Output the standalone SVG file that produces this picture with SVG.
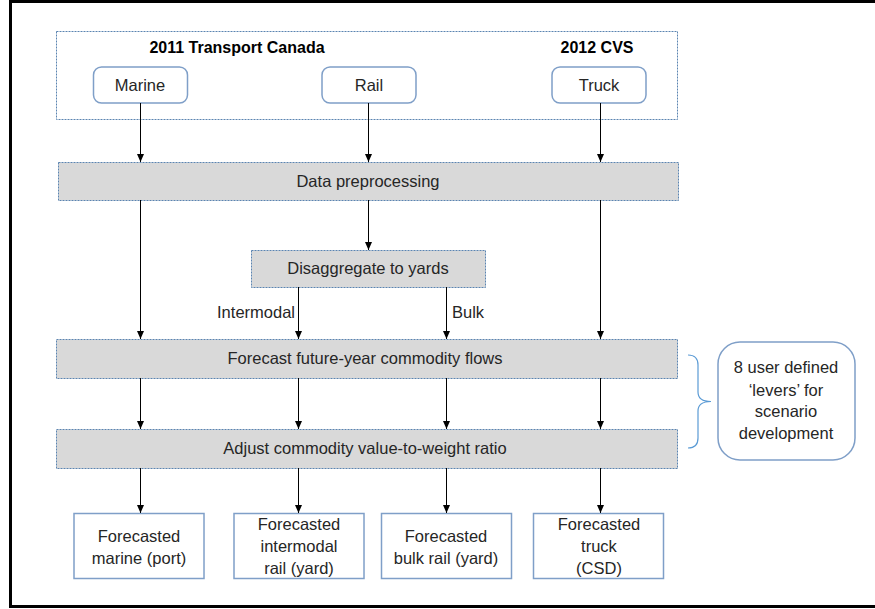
<svg xmlns="http://www.w3.org/2000/svg" width="875" height="609" viewBox="0 0 875 609">
<defs>
<marker id="ah" markerWidth="8" markerHeight="8" viewBox="0 0 8 8" refX="8" refY="4" orient="auto" markerUnits="userSpaceOnUse">
<path d="M0,0.5 L8,4 L0,7.5 z" fill="#000"/>
</marker>
<style>
text{font-family:"Liberation Sans",Arial,sans-serif;fill:#262626;font-size:16.5px;text-anchor:middle}
.b{font-weight:bold;fill:#000;font-size:16px}
.dash{fill:none;stroke:#5b84b1;stroke-width:1;stroke-dasharray:2,1}
.gray{fill:#d9d9d9;stroke:#5b84b1;stroke-width:1;stroke-dasharray:2,1}
.src{fill:#fff;stroke:#7f9fc8;stroke-width:1.5}
.out{fill:#fff;stroke:#7f9fc8;stroke-width:1.5}
.conn line{stroke:#000;stroke-width:1;marker-end:url(#ah)}
</style>
</defs>
<rect width="875" height="609" fill="#fff"/>
<path d="M875,1.5 H10.5 V606.5 H875" fill="none" stroke="#000" stroke-width="3"/>

<g id="sources">
<rect class="dash" x="56.5" y="31.5" width="621" height="88"/>
<text class="b" x="237" y="53">2011 Transport Canada</text>
<text class="b" x="597" y="53">2012 CVS</text>
</g>
<g id="marine"><rect class="src" x="93.5" y="67" width="94" height="36" rx="8"/><text x="140" y="91">Marine</text></g>
<g id="rail"><rect class="src" x="322" y="67" width="94" height="36" rx="8"/><text x="369" y="91">Rail</text></g>
<g id="truck"><rect class="src" x="552" y="67" width="94" height="36" rx="8"/><text x="599" y="91">Truck</text></g>

<g id="preprocessing"><rect class="gray" x="58.5" y="162.5" width="620" height="38"/><text x="368" y="187">Data preprocessing</text></g>
<g id="disaggregate"><rect class="gray" x="251.5" y="250.5" width="234" height="37"/><text x="368" y="274">Disaggregate to yards</text></g>
<g id="forecast"><rect class="gray" x="56.5" y="339.5" width="621" height="39"/><text x="365" y="364">Forecast future-year commodity flows</text></g>
<g id="adjust"><rect class="gray" x="56.5" y="429.5" width="621" height="39"/><text x="365" y="454">Adjust commodity value-to-weight ratio</text></g>

<g id="levers">
<path d="M688,355 Q698,355 698,365 V392 Q698,401.5 711,401.5 Q698,401.5 698,411 V438 Q698,448 688,448" fill="none" stroke="#5b9bd5" stroke-width="1.2"/>
<rect class="src" x="718" y="342" width="137" height="118" rx="22"/>
<text x="786" y="373">8 user defined</text>
<text x="786" y="396">‘levers’ for</text>
<text x="786" y="417">scenario</text>
<text x="786" y="439">development</text>
</g>

<g id="out-marine"><rect class="out" x="74" y="513.5" width="130" height="65"/><text x="139" y="542">Forecasted</text><text x="139" y="564">marine (port)</text></g>
<g id="out-intermodal"><rect class="out" x="234" y="513.5" width="130" height="65"/><text x="299" y="530">Forecasted</text><text x="299" y="552">intermodal</text><text x="299" y="574">rail (yard)</text></g>
<g id="out-bulk"><rect class="out" x="381.5" y="513.5" width="130" height="65"/><text x="446" y="542">Forecasted</text><text x="446" y="564">bulk rail (yard)</text></g>
<g id="out-truck"><rect class="out" x="533.5" y="513.5" width="130" height="65"/><text x="599" y="530">Forecasted</text><text x="599" y="552">truck</text><text x="599" y="574">(CSD)</text></g>

<g id="connectors" class="conn">
<line x1="140.5" y1="103" x2="140.5" y2="162"/>
<line x1="368.5" y1="103" x2="368.5" y2="162"/>
<line x1="600.5" y1="103" x2="600.5" y2="162"/>
<line x1="140.5" y1="200" x2="140.5" y2="339"/>
<line x1="368.5" y1="200" x2="368.5" y2="250"/>
<line x1="600.5" y1="200" x2="600.5" y2="339"/>
<line x1="298.5" y1="287" x2="298.5" y2="339"/>
<line x1="446.5" y1="287" x2="446.5" y2="339"/>
<line x1="140.5" y1="378" x2="140.5" y2="429"/>
<line x1="298.5" y1="378" x2="298.5" y2="429"/>
<line x1="446.5" y1="378" x2="446.5" y2="429"/>
<line x1="600.5" y1="378" x2="600.5" y2="429"/>
<line x1="140.5" y1="468" x2="140.5" y2="513"/>
<line x1="298.5" y1="468" x2="298.5" y2="513"/>
<line x1="446.5" y1="468" x2="446.5" y2="513"/>
<line x1="600.5" y1="468" x2="600.5" y2="513"/>
</g>
<text x="295" y="318" style="text-anchor:end">Intermodal</text>
<text x="452" y="318" style="text-anchor:start">Bulk</text>
</svg>
